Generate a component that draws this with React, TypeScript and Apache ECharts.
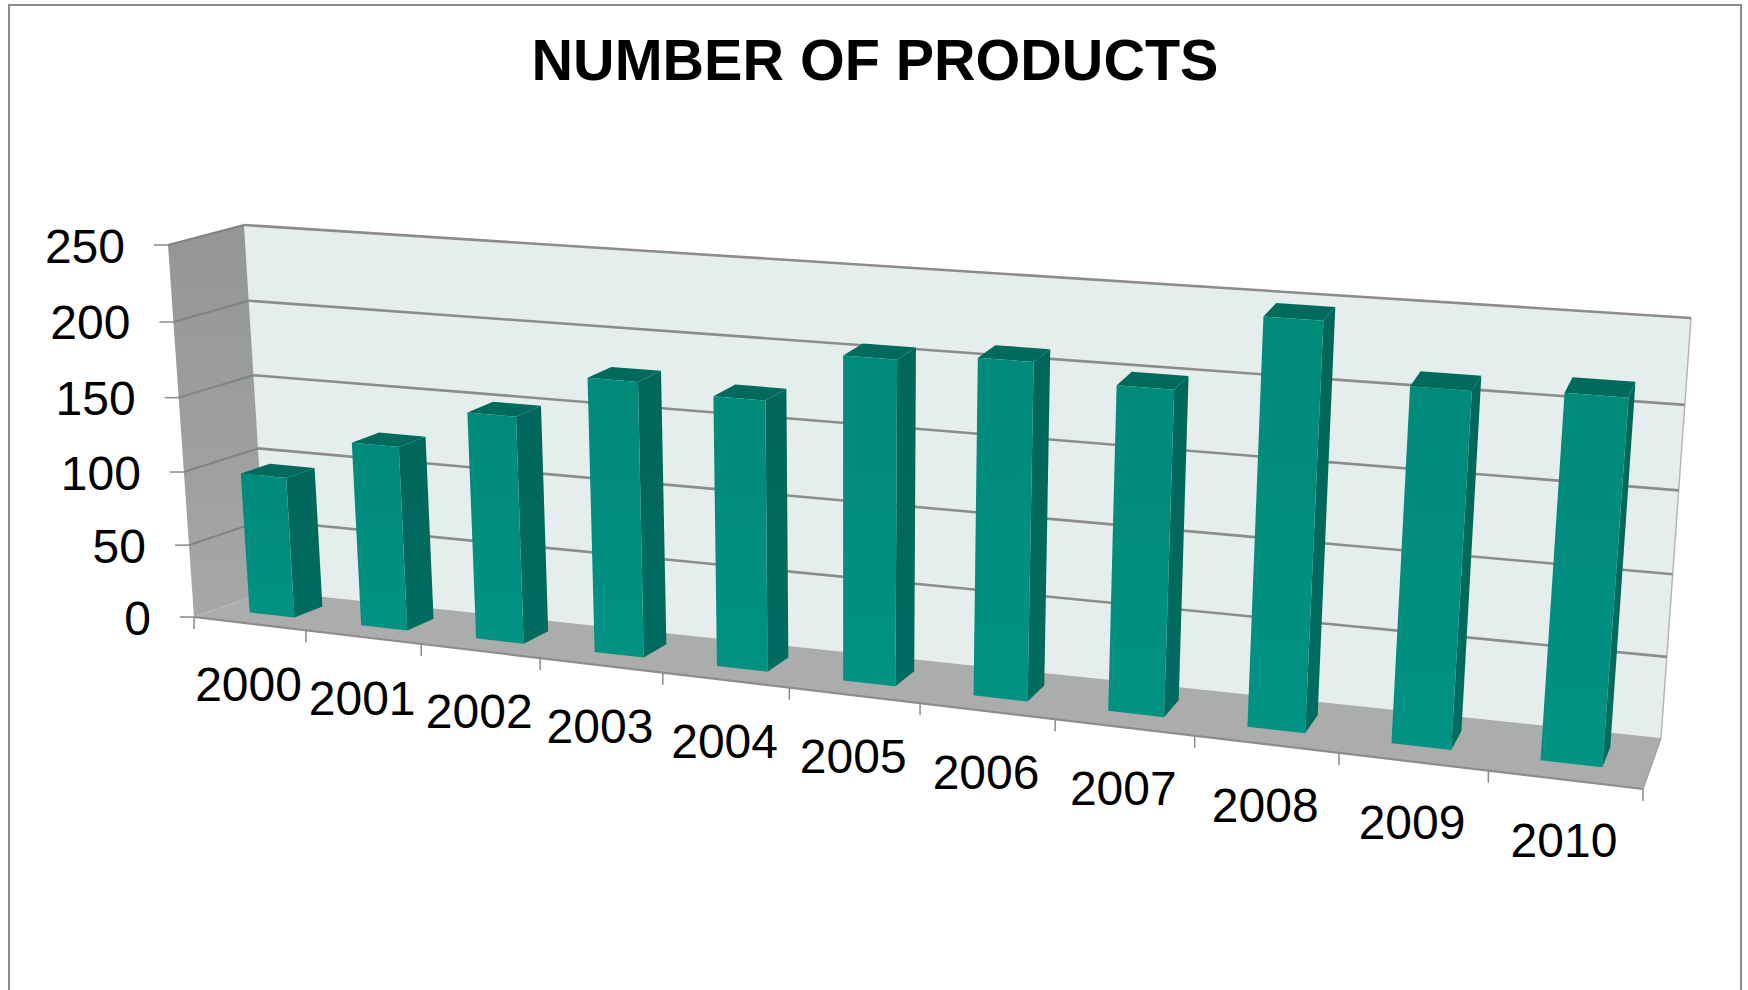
import React, { useEffect, useRef } from "react";
import * as echarts from "echarts";

const title = "NUMBER OF PRODUCTS";
const categories = ["2000", "2001", "2002", "2003", "2004", "2005", "2006", "2007", "2008", "2009", "2010"];
const products = [96, 124, 151, 180, 175, 207, 212, 202, 249, 215, 218];
const yTicks = [0, 50, 100, 150, 200, 250];

// Corners of the tilted box: front plane and back plane
const FBL = [194, 617];
const FBR = [1643, 789];
const FTL = [168, 245];
const FTR = [1676, 357];
const BBL = [267, 591];
const BBR = [1661, 738];
const BTL = [244, 225];
const BTR = [1691, 318];
const foreshortenX = 0.837;
const foreshortenY = 0.958;

const mix = (a: number[], b: number[], t: number) => [a[0] + (b[0] - a[0]) * t, a[1] + (b[1] - a[1]) * t];

function project(u: number, v: number, d: number): number[] {
  const s = (u * foreshortenX) / (1 + u * (foreshortenX - 1));
  const h = (v * foreshortenY) / (1 + v * (foreshortenY - 1));
  const front = mix(mix(FBL, FBR, s), mix(FTL, FTR, s), h);
  const back = mix(mix(BBL, BBR, s), mix(BTL, BTR, s), h);
  return mix(front, back, d);
}

const BAR_LEFT = 0.295;
const BAR_RIGHT = 0.7;
const BAR_FRONT = 0.32;
const BAR_BACK = 0.72;
const FONT = "'Liberation Sans', Arial, sans-serif";
const LABEL = "#000000";
const TICK = "#8a8a8a";

function unit(params: any, api: any, index: number, value: number, frac: number) {
  const cs = params.coordSys;
  const c = api.coord([index, value]);
  const band = api.size([1, 0])[0];
  return [(c[0] + (frac - 0.5) * band - cs.x) / cs.width, (cs.y + cs.height - c[1]) / cs.height];
}

function vertical(top: string, bottom: string) {
  return {
    type: "linear",
    x: 0,
    y: 0,
    x2: 0,
    y2: 1,
    colorStops: [
      { offset: 0, color: top },
      { offset: 1, color: bottom },
    ],
  };
}
function poly(points: number[][], fill: any, stroke?: string, lineWidth = 0) {
  return { type: "polygon", shape: { points }, style: { fill, stroke: stroke ?? "none", lineWidth } };
}
function seg(a: number[], b: number[], stroke: string, lineWidth: number) {
  return { type: "line", shape: { x1: a[0], y1: a[1], x2: b[0], y2: b[1] }, style: { stroke, lineWidth } };
}

const renderBox = (params: any, api: any) => {
  const last = categories.length - 1;
  const [u0, v0] = unit(params, api, 0, 0, 0);
  const [u1, v1] = unit(params, api, last, 250, 1);
  const leftWall = [project(u0, v0, 0), project(u0, v0, 1), project(u0, v1, 1), project(u0, v1, 0)];
  const backWall = [project(u0, v0, 1), project(u1, v0, 1), project(u1, v1, 1), project(u0, v1, 1)];
  const floor = [project(u0, v0, 0), project(u1, v0, 0), project(u1, v0, 1), project(u0, v0, 1)];
  const children: any[] = [
    poly(backWall, "#e6eeed"),
    poly(leftWall, vertical("#949696", "#a6a8a8")),
    poly(floor, "#abadad"),
    seg(project(u1, v0, 1), project(u1, v1, 1), "#b4b6b6", 1.5),
    seg(project(u0, v0, 0), project(u1, v0, 0), "#8c8e8e", 2.2),
    seg(project(u1, v0, 0), project(u1, v0, 1), "#a0a2a2", 1.5),
  ];
  yTicks.forEach((t) => {
    if (t === 0) return;
    const [, v] = unit(params, api, 0, t, 0);
    children.push(seg(project(u0, v, 0), project(u0, v, 1), "#808282", 2));
    children.push(seg(project(u0, v, 1), project(u1, v, 1), "#8c8c8c", 2.6));
  });
  return { type: "group", children };
};

const renderBar = (params: any, api: any) => {
  const i = api.value(0);
  const val = api.value(1);
  const [ul, vb] = unit(params, api, i, 0, BAR_LEFT);
  const [ur, vt] = unit(params, api, i, val, BAR_RIGHT);
  const f = BAR_FRONT;
  const b = BAR_BACK;
  const front = [project(ul, vb, f), project(ur, vb, f), project(ur, vt, f), project(ul, vt, f)];
  const side = [project(ur, vb, f), project(ur, vb, b), project(ur, vt, b), project(ur, vt, f)];
  const top = [project(ul, vt, f), project(ur, vt, f), project(ur, vt, b), project(ul, vt, b)];
  return {
    type: "group",
    children: [
      poly(side, vertical("#00665a", "#006c5f")),
      poly(top, "#006b5d"),
      poly(front, vertical("#008a7a", "#009283")),
    ],
  };
};

const renderXAxis = (params: any, api: any) => {
  const i = api.value(0);
  const [ul, v] = unit(params, api, i, 0, 0);
  const [ur] = unit(params, api, i, 0, 1);
  const [um] = unit(params, api, i, 0, 0.5);
  const children: any[] = [];
  const tick = (u: number) => {
    const p = project(u, v, 0);
    children.push(seg(p, [p[0], p[1] + 12], TICK, 1.5));
  };
  tick(ul);
  if (i === categories.length - 1) tick(ur);
  const m = project(um, v, 0);
  children.push({
    type: "text",
    x: m[0] - 1,
    y: m[1] + 61,
    style: { text: categories[i], fill: LABEL, font: `48px ${FONT}`, align: "center", verticalAlign: "middle" },
  });
  return { type: "group", children };
};

const renderYAxis = (params: any, api: any) => {
  const t = api.value(1);
  const [u, v] = unit(params, api, 0, t, 0);
  const p = project(u, v, 0);
  return {
    type: "group",
    children: [
      seg(p, [p[0] - 14, p[1]], TICK, 1.5),
      {
        type: "text",
        x: p[0] - 43,
        y: p[1] + 1,
        style: { text: String(t), fill: LABEL, font: `48px ${FONT}`, align: "right", verticalAlign: "middle" },
      },
    ],
  };
};

export default function App() {
  const ref = useRef<HTMLDivElement>(null);
  useEffect(() => {
    const chart = echarts.init(ref.current!, undefined, { renderer: "svg" });
    chart.setOption({
      animation: false,
      backgroundColor: "#ffffff",
      title: {
        text: title,
        left: 870,
        top: 26,
        textAlign: "center",
        textStyle: { fontFamily: FONT, fontWeight: "bold", fontSize: 57.5, color: "#000000" },
      },
      grid: { left: 193, top: 245, width: 1450, height: 372 },
      xAxis: { type: "category", data: categories, show: false },
      yAxis: { type: "value", min: 0, max: 250, interval: 50, show: false },
      graphic: [
        {
          type: "polyline",
          silent: true,
          shape: { points: [[9, 990], [9, 5], [1741, 5], [1741, 990]] },
          style: { fill: "none", stroke: "#8c8c8c", lineWidth: 2 },
        },
      ],
      series: [
        { type: "custom", coordinateSystem: "cartesian2d", renderItem: renderBox, data: [[0, 0]], silent: true, z: 1 },
        { type: "custom", coordinateSystem: "cartesian2d", renderItem: renderXAxis, data: categories.map((_, i) => [i, 0]), silent: true, z: 2 },
        { type: "custom", coordinateSystem: "cartesian2d", renderItem: renderYAxis, data: yTicks.map((t) => [0, t]), silent: true, z: 2 },
        { type: "custom", coordinateSystem: "cartesian2d", name: "Products", renderItem: renderBar, data: products.map((p, i) => [i, p]), z: 3 },
      ],
    });
    return () => chart.dispose();
  }, []);
  return <div ref={ref} style={{ position: "absolute", left: 0, top: 0, width: 1748, height: 990 }} />;
}
